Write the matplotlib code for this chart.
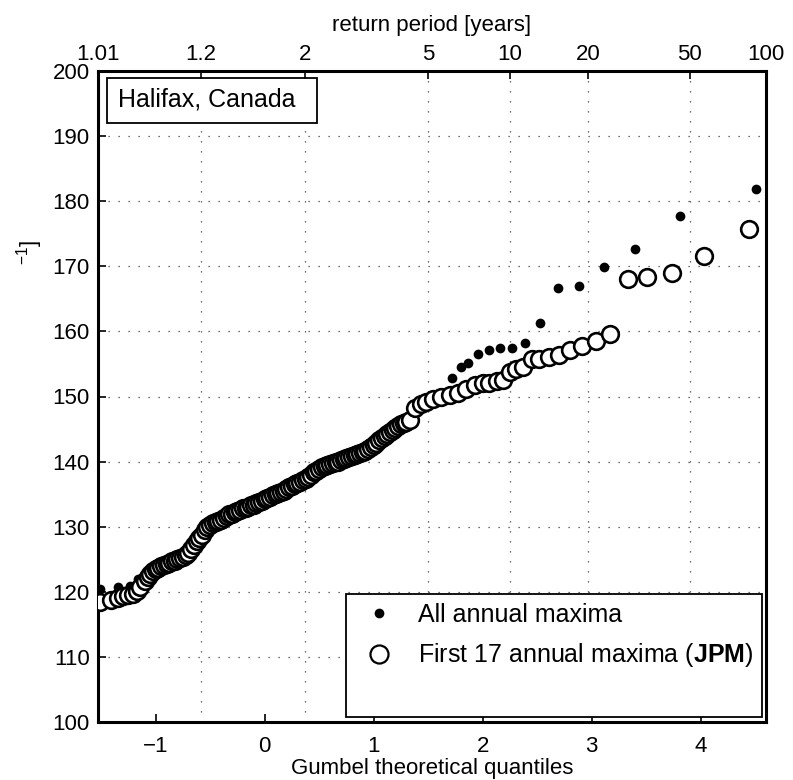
import numpy as np
import matplotlib
matplotlib.use('Agg')
import matplotlib.pyplot as plt
from matplotlib.lines import Line2D
from matplotlib.patches import Rectangle

plt.rcParams['font.family'] = ['Liberation Sans', 'DejaVu Sans']
plt.rcParams['mathtext.fontset'] = 'custom'
plt.rcParams['mathtext.rm'] = 'Liberation Sans'
plt.rcParams['mathtext.bf'] = 'Liberation Sans:bold'

# all annual maxima (gumbel quantile, value)
x_all = [-1.51, -1.35, -1.24, -1.16, -1.10, -1.05, -1.00, -0.95, -0.90, -0.85,
         -0.80, -0.75, -0.70, -0.65, -0.60, -0.55, -0.50, -0.45, -0.40, -0.35,
         -0.30, -0.25, -0.20, -0.15, -0.10, -0.05, 0.00, 0.05, 0.10, 0.15,
         0.20, 0.25, 0.30, 0.35, 0.40, 0.45, 0.50, 0.55, 0.60, 0.65,
         0.70, 0.75, 0.80, 0.85, 0.90, 0.95, 1.00, 1.05, 1.10, 1.15,
         1.20, 1.25, 1.30, 1.35, 1.40, 1.46, 1.52, 1.58, 1.64, 1.72,
         1.80, 1.87, 1.96, 2.06, 2.16, 2.27, 2.39, 2.53, 2.69, 2.88,
         3.11, 3.40, 3.81, 4.51]
y_all = [120.5, 120.7, 120.9, 122.0, 121.8, 122.8, 123.4, 123.9, 124.3, 124.7,
         125.0, 125.3, 126.0, 127.2, 128.4, 129.5, 130.3, 130.7, 131.1, 131.6,
         132.0, 132.4, 132.8, 133.1, 133.4, 133.8, 134.2, 134.6, 135.0, 135.3,
         135.8, 136.3, 136.7, 137.2, 137.7, 138.4, 138.9, 139.3, 139.6, 139.9,
         140.2, 140.6, 140.9, 141.1, 141.5, 142.0, 142.5, 143.3, 143.9, 144.6,
         145.2, 145.7, 146.1, 147.5, 148.5, 149.1, 149.5, 149.8, 150.1, 152.9,
         154.5, 155.2, 156.5, 157.1, 157.5, 157.5, 158.2, 161.3, 166.6, 167.0,
         169.9, 172.7, 177.7, 181.8]

# first 17 annual maxima (JPM)
x_jpm = [-1.51, -1.41, -1.35, -1.30, -1.25, -1.21, -1.17, -1.14,
         # dense middle part
         -1.100, -1.075, -1.050, -1.025, -1.000, -0.975, -0.950, -0.925, -0.900, -0.875,
         -0.850, -0.825, -0.800, -0.775, -0.750, -0.725, -0.700, -0.675, -0.650, -0.625,
         -0.600, -0.575, -0.550, -0.525, -0.500, -0.475, -0.450, -0.425, -0.400, -0.375,
         -0.350, -0.325, -0.300, -0.275, -0.250, -0.225, -0.200, -0.175, -0.150, -0.125,
         -0.100, -0.075, -0.050, -0.025, 0.000, 0.025, 0.050, 0.075, 0.100, 0.125,
         0.150, 0.175, 0.200, 0.225, 0.250, 0.275, 0.300, 0.325, 0.350, 0.375,
         0.400, 0.425, 0.450, 0.475, 0.500, 0.525, 0.550, 0.575, 0.600, 0.625,
         0.650, 0.675, 0.700, 0.725, 0.750, 0.775, 0.800, 0.825, 0.850, 0.875,
         0.900, 0.925, 0.950, 0.975, 1.000, 1.025, 1.050, 1.075, 1.100, 1.125,
         1.150, 1.175, 1.200, 1.225, 1.250, 1.275, 1.300,
         # upper tail
         1.33, 1.38, 1.43, 1.48, 1.54, 1.62, 1.70, 1.77,
         1.85, 1.93, 2.00, 2.06, 2.13, 2.19, 2.25, 2.31, 2.37, 2.45,
         2.52, 2.61, 2.70, 2.80, 2.91, 3.04, 3.17, 3.33, 3.51, 3.74,
         4.03, 4.44]
y_jpm = [118.5, 118.7, 119.1, 119.3, 119.5, 119.7, 120.1, 120.8,
         121.7, 122.3, 122.8, 123.2, 123.5, 123.7, 123.9, 124.1, 124.3, 124.5,
         124.7, 124.8, 125.0, 125.2, 125.3, 125.6, 126.0, 126.5, 127.2, 127.8,
         128.3, 128.8, 129.5, 130.0, 130.3, 130.5, 130.7, 130.9, 131.1, 131.3,
         131.6, 131.9, 132.0, 132.2, 132.4, 132.6, 132.8, 132.9, 133.1, 133.3,
         133.4, 133.6, 133.8, 134.0, 134.2, 134.4, 134.6, 134.8, 135.0, 135.1,
         135.3, 135.5, 135.8, 136.1, 136.3, 136.5, 136.7, 136.9, 137.2, 137.4,
         137.7, 138.0, 138.4, 138.6, 138.9, 139.1, 139.3, 139.5, 139.6, 139.8,
         139.9, 140.0, 140.2, 140.4, 140.6, 140.7, 140.9, 141.0, 141.1, 141.3,
         141.5, 141.7, 142.0, 142.2, 142.5, 142.9, 143.3, 143.6, 143.9, 144.3,
         144.6, 144.9, 145.2, 145.5, 145.7, 145.9, 146.1,
         146.4, 148.2, 148.9, 149.2, 149.6, 149.9, 150.2, 150.6,
         151.1, 151.8, 152.0, 152.1, 152.4, 152.5, 153.8, 154.3, 154.6, 155.7,
         155.8, 156.0, 156.4, 157.1, 157.8, 158.5, 159.6, 168.0, 168.4, 169.0,
         171.6, 175.7]

return_periods = [1.01, 1.2, 2, 5, 10, 20, 50, 100]
return_labels = ['1.01', '1.2', '2', '5', '10', '20', '50', '100']
xticks_bottom = [-1, 0, 1, 2, 3, 4]
yticks = [100, 110, 120, 130, 140, 150, 160, 170, 180, 190, 200]


def gumbel(T):
    T = np.asarray(T, dtype=float)
    return -np.log(-np.log(1.0 - 1.0 / T))


fig = plt.figure(figsize=(7.93, 7.80), dpi=100)
ax = fig.add_axes([98 / 793, 58 / 780, 668 / 793, 651 / 780])

xlo, xhi = gumbel(1.01), gumbel(100)
ax.plot(x_all, y_all, 'o', color='k', ms=7, mec='none', zorder=3,
        label='All annual maxima')
ax.plot(x_jpm, y_jpm, 'o', mfc='white', mec='k', ms=12, mew=1.9, zorder=4,
        label='First 17 annual maxima ($\\mathbf{JPM}$)')

ax.set_xlim(xlo, xhi)
ax.set_ylim(100, 200)
ax.set_xticks(xticks_bottom)
ax.set_xticklabels(['\u22121', '0', '1', '2', '3', '4'])
ax.set_yticks(yticks)
ax.set_xticks(gumbel(return_periods[1:-1]), minor=True)

gridstyle = dict(color='0.25', lw=0.9, linestyle=(0, (1, 7)))
ax.grid(True, which='minor', axis='x', **gridstyle)
ax.grid(True, which='major', axis='y', **gridstyle)
ax.set_axisbelow(True)

ax.tick_params(axis='x', which='minor', length=0)
ax.tick_params(axis='x', which='major', direction='in', length=6, width=1.2,
               labelsize=16, pad=10)
ax.tick_params(axis='y', direction='in', length=6, width=1.2, labelsize=16, pad=6)
for sp in ax.spines.values():
    sp.set_linewidth(2.2)

ax.set_xlabel('Gumbel theoretical quantiles', fontsize=16)
ax.xaxis.set_label_coords(0.5, -0.056)

# top axis: return periods
ax2 = ax.twiny()
ax2.set_xlim(xlo, xhi)
ax2.set_xticks(gumbel(return_periods))
ax2.set_xticklabels(return_labels)
ax2.tick_params(axis='x', direction='in', length=6, width=1.2, labelsize=16, pad=4)
ax2.set_xlabel('return period [years]', fontsize=16)
ax2.xaxis.set_label_coords(0.5, 1.062)
for sp in ax2.spines.values():
    sp.set_visible(False)

# station label box
ax.add_patch(Rectangle((9 / 668, (722 - 123) / 651), 210 / 668, 45 / 651,
                       transform=ax.transAxes, fill=True, fc='white', ec='k',
                       lw=1.3, zorder=6))
ax.text(20 / 668, (722 - 100) / 651, 'Halifax, Canada', transform=ax.transAxes,
        ha='left', va='center', fontsize=18, zorder=7)

# legend with an empty third row
h1, l1 = ax.get_legend_handles_labels()
blank = Line2D([], [], ls='none', marker='none')
leg = ax.legend(h1 + [blank], l1 + [' '], loc='lower right',
                bbox_to_anchor=(0.994, 0.008), fontsize=18, frameon=True,
                fancybox=False, edgecolor='k', framealpha=1, borderpad=0.36,
                handletextpad=0.6, handlelength=1.92, labelspacing=0.58,
                borderaxespad=0)
leg.get_frame().set_linewidth(1.3)
leg.set_zorder(8)
leg.legend_handles[1].set_markersize(13)
leg.legend_handles[1].set_markeredgewidth(1.6)

# clipped y label fragment
fig.text(30 / 793, 1 - 252 / 780, '$^{-1}$]', rotation=90, fontsize=16,
         ha='center', va='center')

fig.savefig('out.png', dpi=100)
